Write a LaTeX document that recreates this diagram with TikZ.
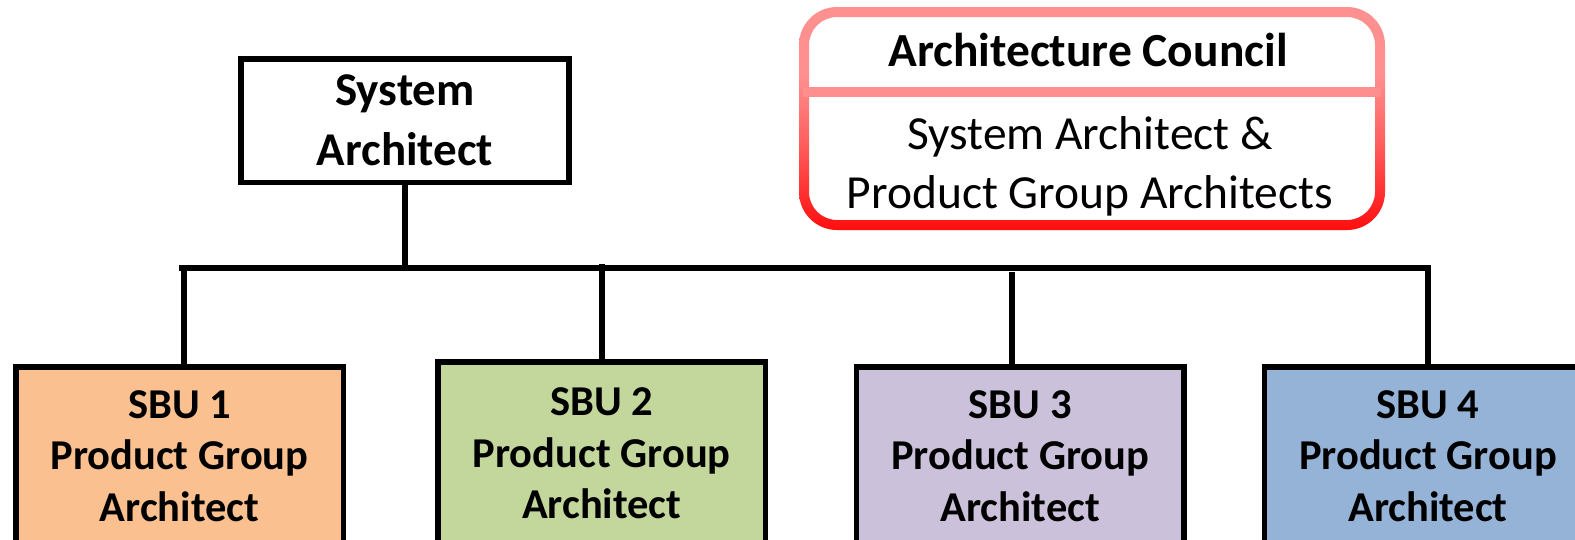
\documentclass[tikz,border=0pt]{standalone}
\usepackage{fontspec}
\setmainfont{Carlito}
\usetikzlibrary{calc}

% rim of the council panel: red at the bottom, fading to pink above
\definecolor{rimbot}{RGB}{255,14,14}
\definecolor{rimmid}{RGB}{255,96,96}
\definecolor{rimtop}{RGB}{255,144,144}
\pgfdeclareverticalshading{councilrim}{100bp}{%
  color(0bp)=(rimbot); color(25bp)=(rimbot); color(45bp)=(rimmid);
  color(60bp)=(rimtop); color(75bp)=(rimtop); color(100bp)=(rimtop)}

\definecolor{sbuorange}{RGB}{250,192,144}
\definecolor{sbugreen}{RGB}{195,214,155}
\definecolor{sbulilac}{RGB}{204,193,218}
\definecolor{sbublue}{RGB}{149,179,215}
\definecolor{divider}{RGB}{255,142,142}

\tikzset{
  leadbox/.style={draw=black, line width=5.5pt, fill=white, inner sep=0pt,
    align=center, font=\bfseries\fontsize{47}{60}\selectfont},
  sbubox/.style={draw=black, line width=5.5pt, inner sep=0pt,
    minimum width=327.5pt, align=center,
    font=\bfseries\fontsize{42.5}{51.5}\selectfont},
  wire/.style={draw=black, line width=6pt, line join=miter},
}

\begin{document}
\begin{tikzpicture}[x=1pt, y=-1pt]
\path[use as bounding box, fill=white] (0,0) rectangle (1575,539);

% council panel
\node[minimum width=586pt, minimum height=223pt, inner sep=0pt] (council) at (1092,118.5) {};
\shade[shading=councilrim, even odd rule]
  [rounded corners=38pt] (799,7) rectangle (1385,230)
  [rounded corners=28pt] (809,17) rectangle (1375,220);
\fill[divider] (803,87) rectangle (1381,97);
\node[anchor=base, inner sep=0pt, font=\bfseries\fontsize{47.5}{56}\selectfont]
  (ctitle) at (1088,66) {Architecture Council};
\node[align=center, inner sep=0pt, font=\fontsize{47.5}{58.7}\selectfont]
  (cbody) at (1090,166) {System Architect \&\\Product Group Architects};

% head of the chart
\node[leadbox, minimum width=328pt, minimum height=123.5pt] (sa) at (405,120.5)
  {System\\Architect};

\begin{scope}
\clip (0,0) rectangle (1575,539);
\node[sbubox, fill=sbuorange, minimum height=178pt] (sbu1) at (179.5,456)
  {SBU 1\\Product Group\\Architect};
\node[sbubox, fill=sbugreen, minimum height=183pt] (sbu2) at (601.75,453.5)
  {SBU 2\\Product Group\\Architect};
\node[sbubox, fill=sbulilac, minimum height=178pt] (sbu3) at (1020.25,456)
  {SBU 3\\Product Group\\Architect};
\node[sbubox, fill=sbublue, minimum height=178pt] (sbu4) at (1428,456)
  {SBU 4\\Product Group\\Architect};
\end{scope}

% reporting lines
\coordinate (busL) at (179,268);
\coordinate (busR) at (1428,268);
\coordinate (d1) at (184,268);
\coordinate (d3) at (1012,272);
\draw[wire] (sa.south) -- (sa.south |- busL);
\draw[wire] (busL) -- (busR) -- (sbu4.north);
\draw[wire] (d1) -- (d1 |- sbu1.north);
\draw[wire] ([yshift=4pt]sbu2.north |- busL) -- (sbu2.north);
\draw[wire] (d3) -- (d3 |- sbu3.north);
\end{tikzpicture}
\end{document}
